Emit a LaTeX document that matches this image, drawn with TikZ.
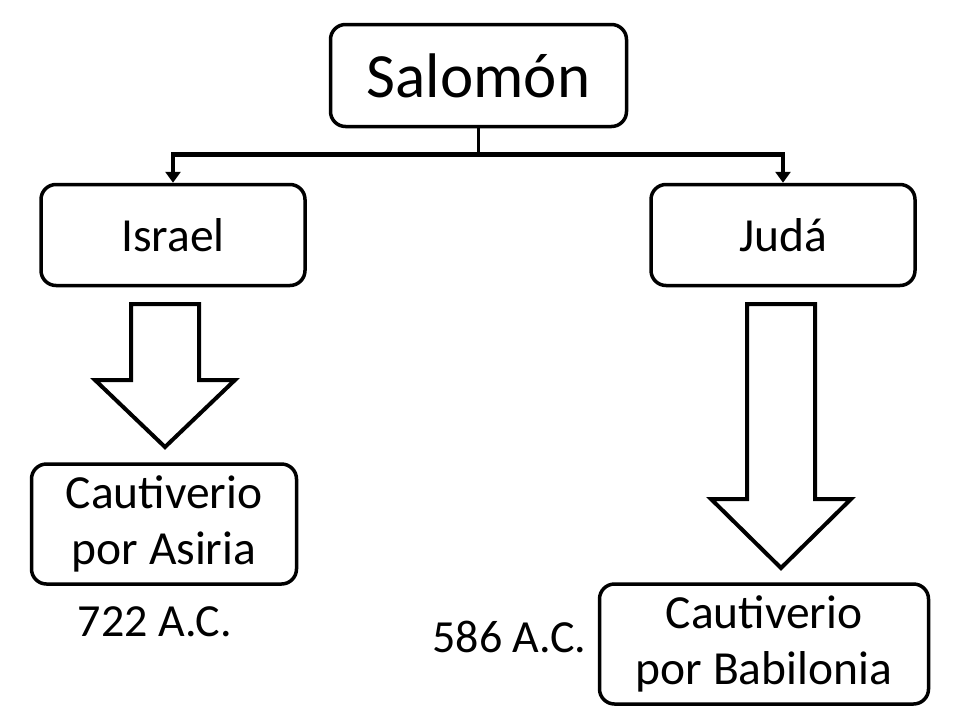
\documentclass[tikz,border=0pt]{standalone}
\usepackage{fontspec}
\setmainfont{Carlito}
\usetikzlibrary{arrows.meta, positioning, calc}

\begin{document}
\begin{tikzpicture}[x=1pt, y=-1pt,
    caja/.style={draw, line width=3.5pt, rounded corners=15pt, inner sep=0pt,
      align=center, font=\fontsize{47.5}{56}\selectfont},
    fecha/.style={inner sep=0pt, font=\fontsize{46}{55}\selectfont}]
        \useasboundingbox (0,0) rectangle (960,720);
        % king and the two kingdoms
        \node[caja, minimum width=296pt, minimum height=102pt,
          font=\fontsize{63}{63}\selectfont] (salomon) at (478.5, 75.5) {Salomón};
        \node[caja, minimum width=264pt, minimum height=101pt] (israel) at (173, 235) {Israel};
        \node[caja, minimum width=264pt, minimum height=101pt] (juda) at (783, 235) {Judá};
        \draw[line width=3pt] (salomon.south) -- ++(0,26) coordinate (rama);
        \draw[line width=4.5pt, -{Triangle[width=15pt, length=11pt]}]
          (rama) -| (israel.north);
        \draw[line width=4.5pt, -{Triangle[width=15pt, length=11pt]}]
          (rama) -| (juda.north);
        % block arrows down to the captivities
        \foreach \cx/\base/\tip in {165/380/447, 781/499/568} {
          \draw[line width=4pt, fill=white, line join=miter]
            (\cx-34, 304) -- (\cx+34, 304) -- (\cx+34, \base) -- (\cx+70, \base)
            -- (\cx, \tip) -- (\cx-70, \base) -- (\cx-34, \base) -- cycle;
        }
        \node[caja, minimum width=265pt, minimum height=120pt] (asiria) at (164, 524)
          {Cautiverio\\por Asiria};
        \node[caja, minimum width=329pt, minimum height=120pt] (babilonia) at (764, 644)
          {Cautiverio\\por Babilonia};
        \node[fecha] (f722) at (155, 622) {722 A.C.};
        \node[fecha, left=11pt of babilonia, yshift=7pt] (f586) {586 A.C.};
      \end{tikzpicture}
\end{document}
